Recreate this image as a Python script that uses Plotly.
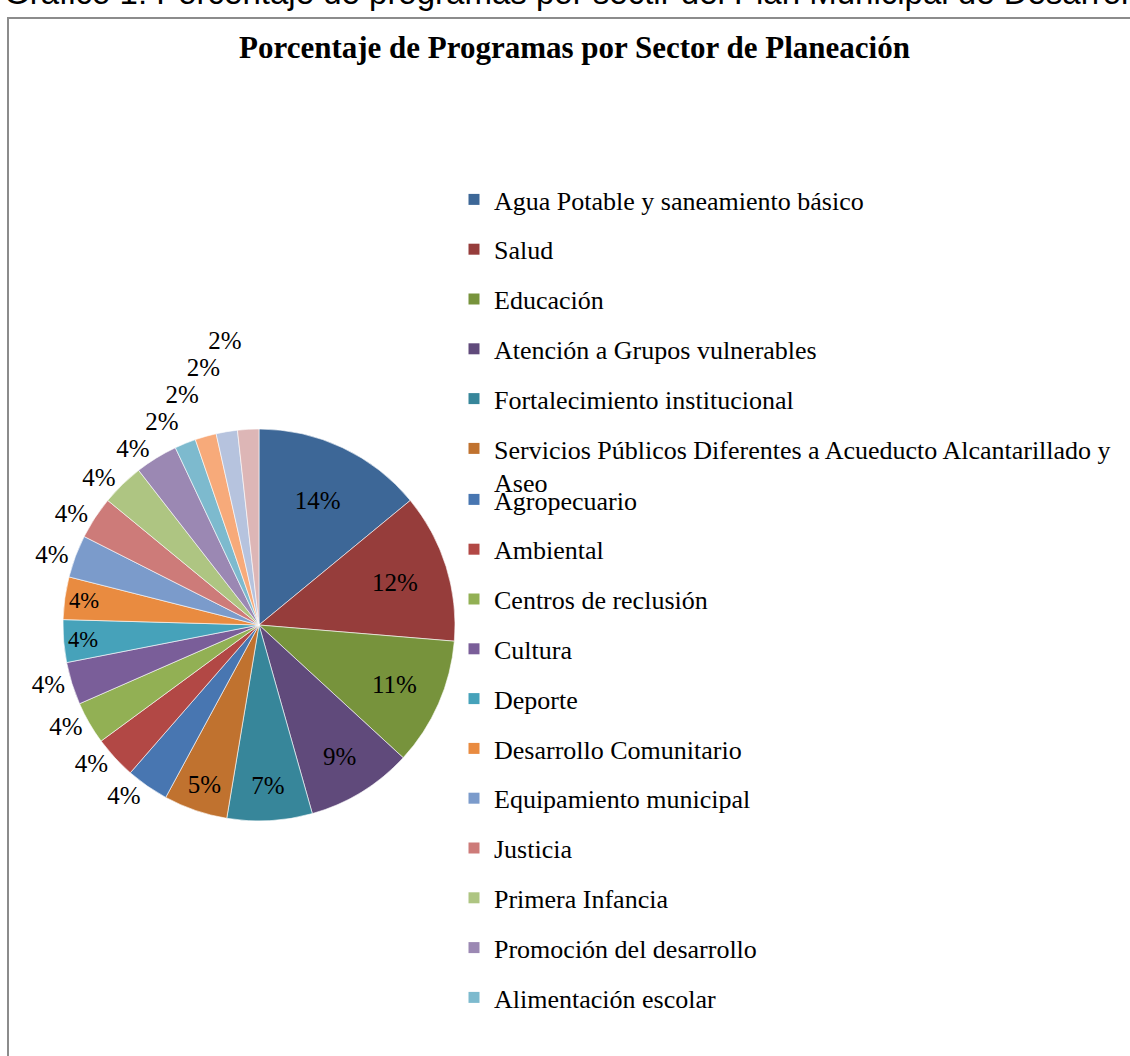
import plotly.graph_objects as go

# Datos: número de programas por sector (porcentajes calculados por Plotly)
sectores = [
    "Agua Potable y saneamiento básico",
    "Salud",
    "Educación",
    "Atención a Grupos vulnerables",
    "Fortalecimiento institucional",
    "Servicios Públicos Diferentes a Acueducto Alcantarillado y<br>Aseo",
    "Agropecuario",
    "Ambiental",
    "Centros de reclusión",
    "Cultura",
    "Deporte",
    "Desarrollo Comunitario",
    "Equipamiento municipal",
    "Justicia",
    "Primera Infancia",
    "Promoción del desarrollo",
    "Alimentación escolar",
    "Transporte",
    "Vivienda",
    "Prevención y atención de desastres",
]
programas = [8, 7, 6, 5, 4, 3, 2, 2, 2, 2, 2, 2, 2, 2, 2, 2, 1, 1, 1, 1]

# Paleta tipo Excel 2007
COLORES = [
    "#3D6797", "#963D3B", "#77933C", "#604A7B", "#37869A", "#C0722F",
    "#4876B1", "#B24845", "#92B054", "#7A5E99", "#46A2BA", "#E98B40",
    "#7B9BCB", "#CD7B79", "#AEC582", "#9B88B3", "#7DBACE", "#F7AA7A",
    "#B6C3DE", "#DDB6B6",
]
POS_TEXTO = ["inside"] * 6 + ["outside"] * 4 + ["inside"] * 2 + ["outside"] * 8
N_LEYENDA = 17  # Excel recorta la leyenda: solo caben 17 entradas

W, H = 1130, 1056
SERIF = "Liberation Serif, Times New Roman, serif"

fig = go.Figure()

fig.add_trace(go.Pie(
    labels=sectores,
    values=programas,
    sort=False,
    direction="clockwise",
    rotation=0,
    marker=dict(colors=COLORES, line=dict(color="white", width=0.6)),
    texttemplate="%{percent:.0%}",
    textposition=POS_TEXTO,
    insidetextorientation="horizontal",
    textfont=dict(family=SERIF, size=25, color="black"),
    domain=dict(x=[63 / W, 455 / W], y=[1 - 821 / H, 1 - 429 / H]),
    showlegend=False,
    hoverinfo="label+percent",
))

# Entradas de leyenda (trazas vacías, marcador cuadrado)
for i in range(N_LEYENDA):
    fig.add_trace(go.Scatter(
        x=[None], y=[None],
        mode="markers",
        marker=dict(symbol="square", size=11, color=COLORES[i]),
        name=sectores[i],
        legendgroup=f"g{i}",
        legend="legend" if i < 6 else "legend2",
        hoverinfo="skip",
    ))

leyenda_comun = dict(
    x=454 / W, xanchor="left", yanchor="top",
    font=dict(family=SERIF, size=26, color="black"),
    traceorder="grouped", tracegroupgap=13,
    bgcolor="rgba(0,0,0,0)", valign="top", itemclick=False,
)

fig.update_layout(
    width=W, height=H,
    margin=dict(l=0, r=0, t=0, b=0),
    paper_bgcolor="white", plot_bgcolor="white",
    xaxis=dict(visible=False), yaxis=dict(visible=False),
    legend=dict(y=1 - 176 / H, **leyenda_comun),
    legend2=dict(y=1 - 476 / H, **leyenda_comun),
    shapes=[dict(
        type="rect", xref="paper", yref="paper",
        x0=8 / W, x1=1.05, y0=-0.05, y1=1 - 18 / H,
        line=dict(color="#8C8C8C", width=2), fillcolor="rgba(0,0,0,0)",
        layer="below",
    )],
    annotations=[
        dict(
            text="<b>Porcentaje de Programas por Sector de Planeación</b>",
            xref="paper", yref="paper", x=574 / W, y=1 - 48 / H,
            xanchor="center", yanchor="middle", showarrow=False,
            font=dict(family=SERIF, size=31, color="black"),
        ),
        dict(
            text="Gráfico 1: Porcentaje de programas por sectir del Plan Municipal de Desarrollo",
            xref="paper", yref="paper", x=2 / W, y=1 - 13 / H,
            xanchor="left", yanchor="bottom", showarrow=False,
            font=dict(family="Liberation Sans, Arial, sans-serif", size=33, color="black"),
        ),
    ],
)

# Sin margen de página y sin líneas guía en las etiquetas externas (como en Excel)
POST = (
    "document.body.style.margin='0';"
    "var s=document.createElement('style');"
    "s.textContent='.textline{display:none}';"
    "document.head.appendChild(s);"
)
fig.write_html("out.html", post_script=POST, config={"displayModeBar": False})
